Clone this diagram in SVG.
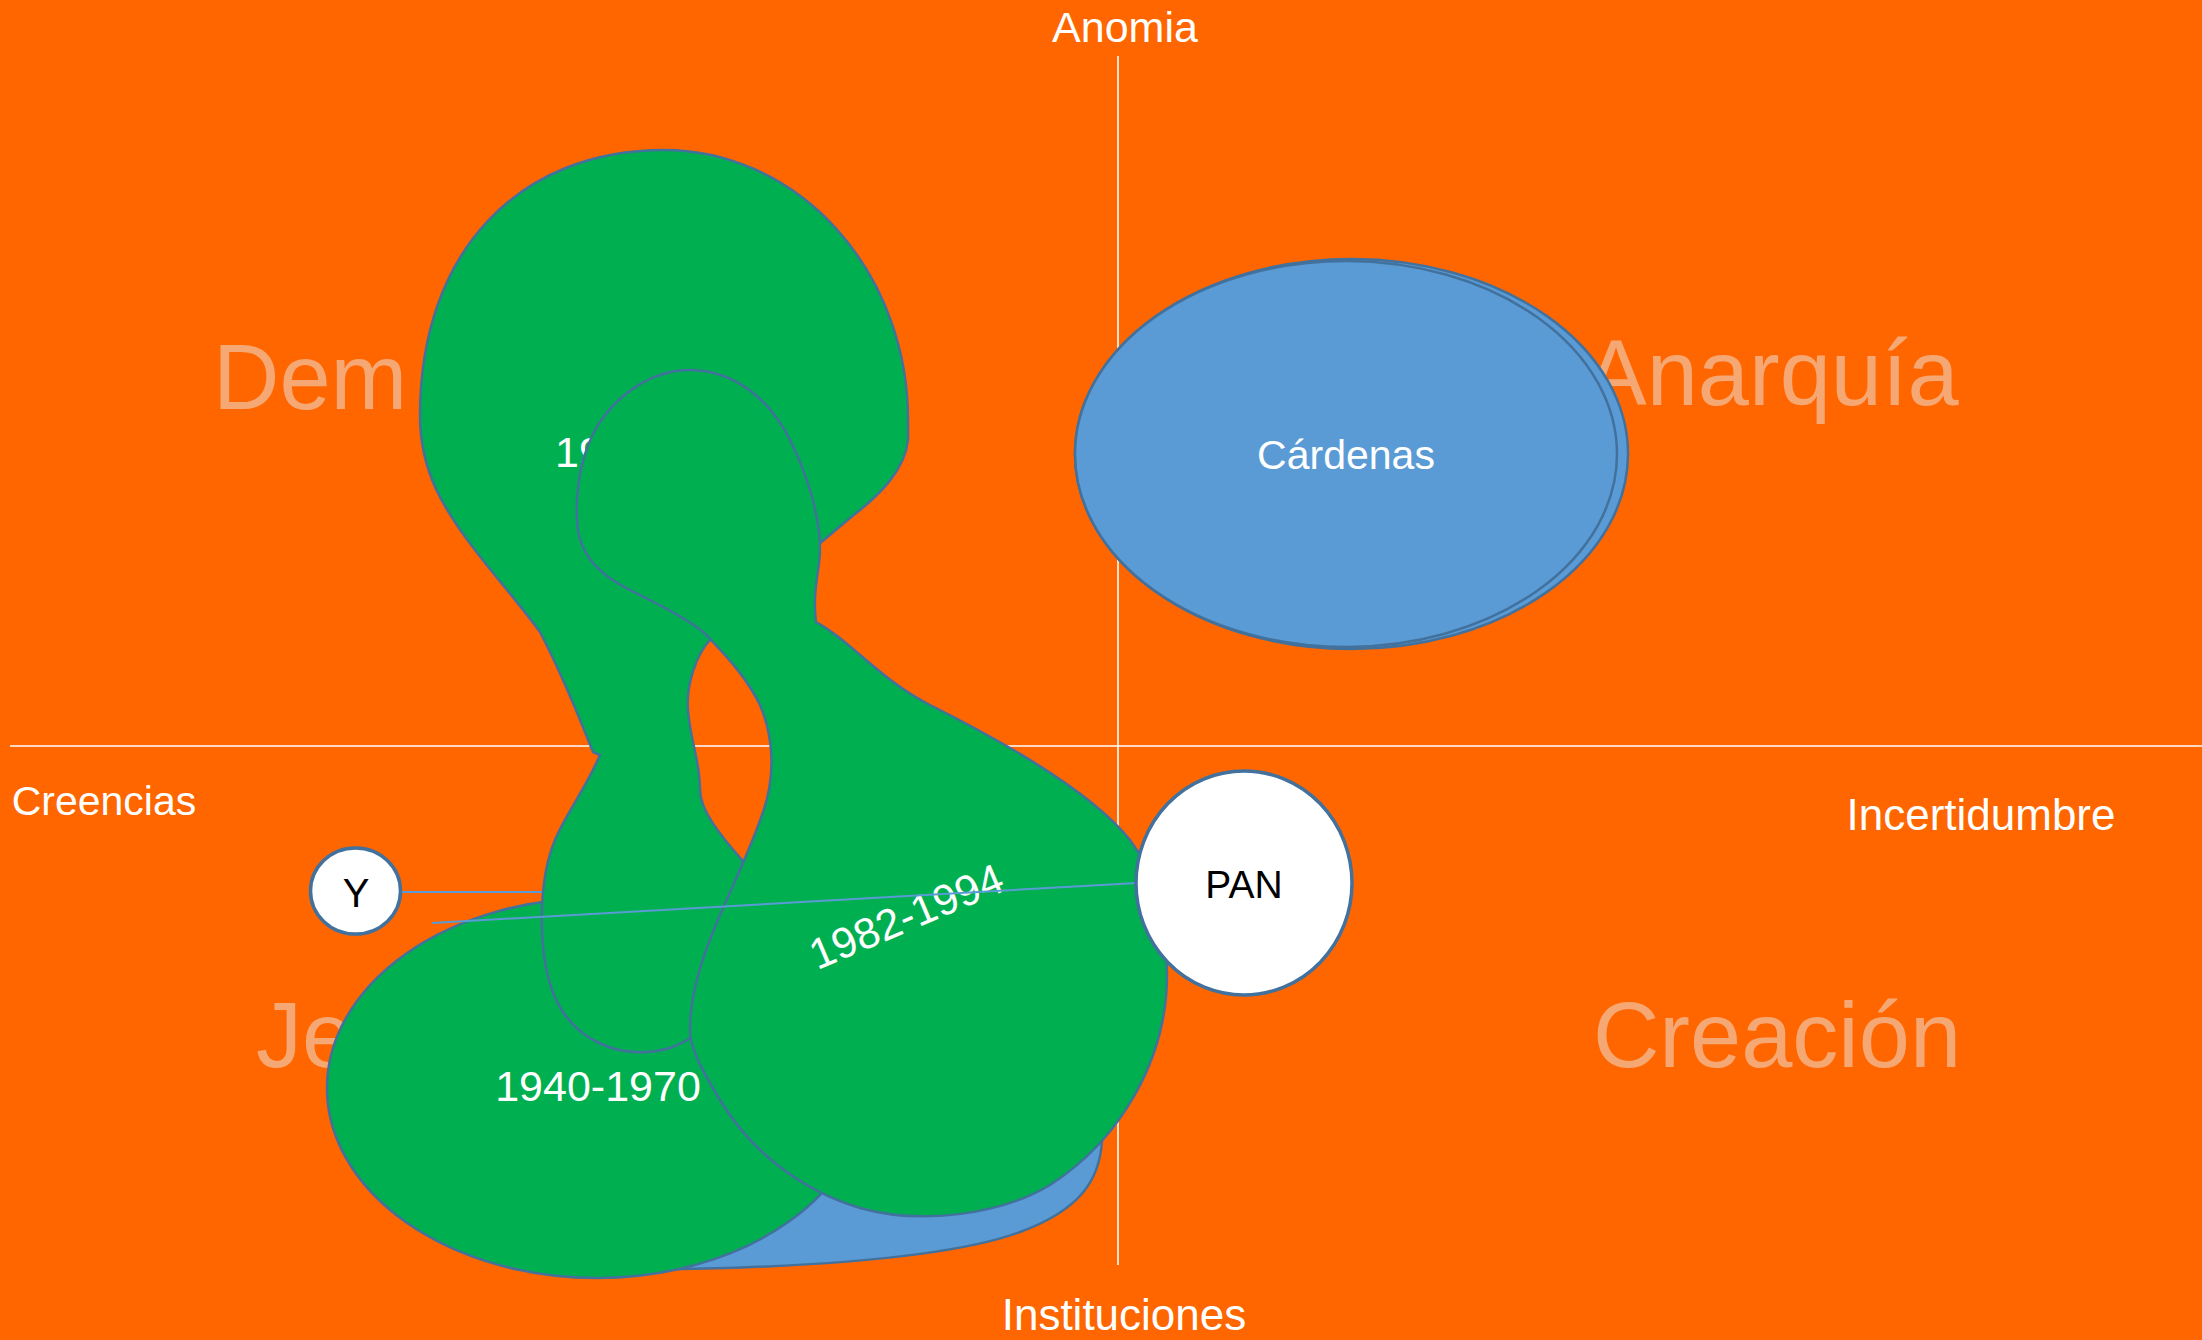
<svg xmlns="http://www.w3.org/2000/svg" width="2202" height="1340" viewBox="0 0 2202 1340">
<style>
.lbl{font-family:"Liberation Sans",Arial,sans-serif;fill:#ffffff}
.wm{font-family:"Liberation Sans",Arial,sans-serif;fill:#F5A873;font-size:92px}
.grn{fill:#00B050;stroke:#41719C;stroke-width:2.5;stroke-linejoin:round}
.blu{fill:#5B9BD5;stroke:#41719C;stroke-width:2.5}
.axis{stroke:#ffffff;stroke-width:1.6}
.conn{stroke:#5B9BD5;stroke-width:2;fill:none}
.node{fill:#ffffff;stroke:#41719C;stroke-width:3.5}
.dark{font-family:"Liberation Sans",Arial,sans-serif;fill:#000000}
</style>
<rect width="2202" height="1340" fill="#FF6600"/>
<g id="axes">
<line class="axis" x1="10" y1="746" x2="2202" y2="746"/>
<line class="axis" x1="1118" y1="56" x2="1118" y2="1265"/>
</g>
<g id="quadrants">
<text class="wm" x="213" y="409">Dem</text>
<text class="wm" x="1772" y="405" text-anchor="middle" font-size="90">Anarquía</text>
<text class="wm" x="256" y="1067">Je</text>
<text class="wm" x="1777" y="1067" text-anchor="middle">Creación</text>
</g>
<g id="axis-labels">
<text class="lbl" x="1125" y="42" text-anchor="middle" font-size="43">Anomia</text>
<text class="lbl" x="104" y="815" text-anchor="middle" font-size="41">Creencias</text>
<text class="lbl" x="1981" y="830" text-anchor="middle" font-size="44">Incertidumbre</text>
<text class="lbl" x="1124" y="1330" text-anchor="middle" font-size="44">Instituciones</text>
</g>
<g id="cardenas">
<ellipse class="blu" cx="1351.5" cy="454" rx="276.5" ry="195"/>
<ellipse class="blu" cx="1346" cy="454" rx="271" ry="193"/>
<text class="lbl" x="1346" y="469" text-anchor="middle" font-size="41">Cárdenas</text>
</g>
<g id="blue-base">
<path class="blu" d="M 640,1270 C 800,1268 950,1258 1020,1232 C 1080,1210 1100,1180 1102,1140 L 1102,1080 L 640,1080 Z"/>
</g>
<g id="period-1940-1970">
<ellipse class="grn" cx="597" cy="1088" rx="270" ry="190"/>
<text class="lbl" x="598" y="1101" text-anchor="middle" font-size="43">1940-1970</text>
</g>
<g id="connector-y-under">
<line class="conn" x1="401" y1="892" x2="560" y2="892"/>
</g>
<g id="period-top">
<path class="grn" d="M 664,150 A 244 270 0 0 1 908,420 L 908,440 C 905,470 880,495 850,518 L 800,560 L 760,600 L 710,640 C 696,655 686,685 688,710 C 690,740 700,760 700,790 C 700,810 720,835 742,860 L 745,900 C 745,980 720,1030 670,1048 C 620,1062 570,1040 552,990 C 538,950 538,880 555,840 C 565,815 585,790 600,755 L 593,752 C 580,720 565,680 540,632 C 510,590 460,540 436,489 C 425,465 420,440 420,416 C 420,250 520,150 664,150 Z"/>
<text class="lbl" x="555" y="467" font-size="43">19</text>
</g>
<g id="period-1982-1994">
<path class="grn" d="M 689,370 C 735,370 770,400 790,440 C 810,480 820,520 820,550 C 820,570 812,590 816,622 C 850,640 880,680 930,705 C 1000,740 1090,790 1130,840 C 1160,880 1167,930 1167,975 C 1167,1060 1120,1140 1050,1185 C 1000,1215 920,1225 860,1208 C 800,1190 750,1150 720,1100 C 705,1075 690,1050 690,1030 C 690,990 705,950 720,915 C 735,880 750,850 762,815 C 775,780 775,740 760,705 C 748,680 730,660 711,640 C 700,625 660,605 630,590 C 600,575 578,555 577,520 C 575,480 585,440 605,415 C 625,390 655,370 689,370 Z"/>
<text class="lbl" font-size="43" text-anchor="middle" transform="translate(912,930) rotate(-23)">1982-1994</text>
</g>
<g id="connectors">
<line class="conn" x1="432" y1="923" x2="1137" y2="883"/>
</g>
<g id="node-y">
<ellipse class="node" cx="355.5" cy="891" rx="45" ry="43"/>
<text class="dark" x="356" y="907" text-anchor="middle" font-size="40">Y</text>
</g>
<g id="node-pan">
<ellipse class="node" cx="1244" cy="883" rx="108" ry="112"/>
<text class="dark" x="1244" y="898" text-anchor="middle" font-size="39">PAN</text>
</g>
</svg>
